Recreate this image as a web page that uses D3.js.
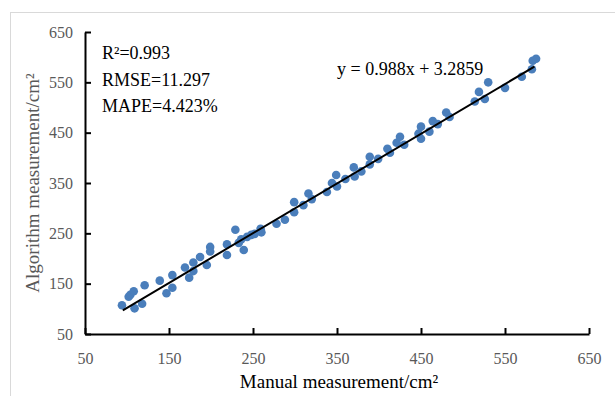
<!DOCTYPE html>
<html>
<head>
<meta charset="utf-8">
<script src="https://cdn.jsdelivr.net/npm/d3@7"></script>
<style>
  body { margin: 0; background: #fff; }
  text { font-family: "Liberation Serif", "Times New Roman", serif; }
</style>
</head>
<body>
<div id="chart"></div>
<script>
const manual = [94, 102, 104, 108, 109, 118, 121, 139, 147, 154, 154, 169, 174, 179, 179, 187, 195, 199, 199,
  219, 219, 229, 233, 236, 239, 243, 248, 252, 259, 260, 278, 288, 299, 299, 310, 316, 320, 338, 344, 349,
  350, 360, 370, 371, 379, 389, 389, 399, 410, 413, 421, 425, 430, 447, 450, 450, 460, 464, 470, 480, 484,
  514, 519, 526, 530, 550, 570, 582, 583, 587];
const algorithm = [107, 124, 128, 135, 101, 110, 147, 156, 131, 142, 167, 182, 162, 192, 175, 203, 187, 223, 214,
  228, 207, 257, 231, 238, 217, 243, 247, 249, 259, 252, 269, 277, 312, 292, 306, 329, 318, 332, 350, 366,
  343, 358, 381, 363, 373, 402, 387, 398, 418, 410, 430, 442, 426, 448, 462, 438, 452, 473, 467, 490, 481,
  512, 531, 517, 550, 539, 561, 576, 593, 597];
const ticks = [50, 150, 250, 350, 450, 550, 650];
const slope = 0.988;
const intercept = 3.2859;
const fitRange = [95, 585];
const stats = ["R²=0.993", "RMSE=11.297", "MAPE=4.423%"];
const equation = "y = 0.988x + 3.2859";

const width = 615;
const height = 396;
const margin = { top: 32, right: 26, bottom: 62, left: 85 };

const svg = d3.select("#chart").append("svg")
  .attr("width", width)
  .attr("height", height);

// light frame round the chart area
svg.append("rect")
  .attr("x", 10.5).attr("y", 12.5)
  .attr("width", 620).attr("height", 400)
  .attr("fill", "none")
  .attr("stroke", "#d9d9d9");

const x = d3.scaleLinear().domain([50, 650]).range([margin.left, width - margin.right]);
const y = d3.scaleLinear().domain([50, 650]).range([height - margin.bottom, margin.top]);

const gx = svg.append("g")
  .attr("transform", `translate(0,${y(50)})`)
  .call(d3.axisBottom(x).tickValues(ticks).tickSizeInner(-6).tickSizeOuter(0).tickPadding(19));
const gy = svg.append("g")
  .attr("transform", `translate(${x(50)},0)`)
  .call(d3.axisLeft(y).tickValues(ticks).tickSizeInner(-6).tickSizeOuter(0).tickPadding(12));

[gx, gy].forEach((g) => {
  g.select(".domain").attr("stroke", "#000").attr("stroke-width", 2);
  g.selectAll(".tick line").attr("stroke", "#000").attr("stroke-width", 2);
  g.selectAll(".tick text")
    .attr("fill", "#595959")
    .attr("font-size", 16)
    .attr("font-family", "Liberation Serif, serif");
});

// points
svg.append("g")
  .selectAll("circle")
  .data(manual.map((m, i) => [m, algorithm[i]]))
  .join("circle")
  .attr("cx", (d) => x(d[0]))
  .attr("cy", (d) => y(d[1]))
  .attr("r", 4.3)
  .attr("fill", "#4a7ebb");

// fitted line
svg.append("line")
  .attr("x1", x(fitRange[0]))
  .attr("y1", y(slope * fitRange[0] + intercept))
  .attr("x2", x(fitRange[1]))
  .attr("y2", y(slope * fitRange[1] + intercept))
  .attr("stroke", "#000")
  .attr("stroke-width", 2);

// stats block
svg.append("g")
  .selectAll("text")
  .data(stats)
  .join("text")
  .attr("x", 102)
  .attr("y", (d, i) => 59 + i * 26.5)
  .attr("font-size", 18)
  .attr("fill", "#000")
  .text((d) => d);

svg.append("text")
  .attr("x", 337)
  .attr("y", 75)
  .attr("font-size", 18)
  .attr("fill", "#000")
  .text(equation);

// axis titles
svg.append("text")
  .attr("x", 339)
  .attr("y", 388)
  .attr("text-anchor", "middle")
  .attr("font-size", 19)
  .attr("fill", "#000")
  .text("Manual measurement/cm²");

svg.append("text")
  .attr("transform", "translate(39,183) rotate(-90)")
  .attr("text-anchor", "middle")
  .attr("font-size", 19)
  .attr("fill", "#595959")
  .text("Algorithm measurement/cm²");
</script>
</body>
</html>
